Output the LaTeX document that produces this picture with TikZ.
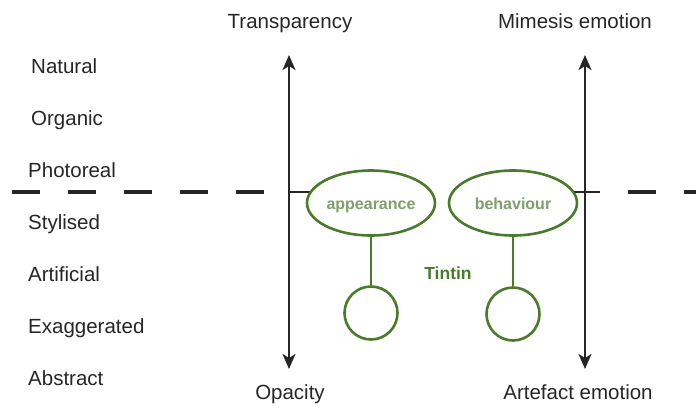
\documentclass[tikz,border=0pt]{standalone}
\usepackage{fontspec}
\setmainfont{Liberation Sans}
\usetikzlibrary{shapes.geometric,arrows.meta,backgrounds}
\definecolor{grn}{HTML}{4A7A2C}
\definecolor{grntxt}{HTML}{7F9E6C}
\definecolor{ink}{HTML}{262626}
\tikzset{
  lbl/.style={anchor=base west,inner sep=0pt,text=ink,font=\fontsize{20.5}{24}\selectfont},
  albl/.style={anchor=base,inner sep=0pt,text=ink,font=\fontsize{20.5}{24}\selectfont},
  oval/.style={ellipse,draw=grn,line width=2.6pt,fill=white,minimum width=128pt,minimum height=65pt,inner sep=0pt,text height=12pt,text depth=0pt,text=grntxt,font=\bfseries\fontsize{16}{19}\selectfont},
  ball/.style={circle,draw=grn,line width=2.6pt,fill=white,minimum size=53pt,inner sep=0pt},
  stem/.style={draw=grn,line width=2.6pt},
  axisline/.style={draw=ink,line width=2.5pt,{Stealth[length=15pt,width=13pt,inset=4pt]}-{Stealth[length=15pt,width=13pt,inset=4pt]}},
  dashline/.style={draw=ink,line width=3.2pt,dash pattern=on 28pt off 28pt},
  seg/.style={draw=ink,line width=2.6pt}
}
\begin{document}
\begin{tikzpicture}[x=1pt,y=-1pt]
\useasboundingbox (0,0) rectangle (696,407);
% axes
\coordinate (tL) at (289,55);
\coordinate (bL) at (289,369);
\coordinate (tR) at (585,55);
\coordinate (bR) at (585,369);
% horizontal line points
\coordinate (h0) at (12,192);
\coordinate (hL) at (289,192);
\coordinate (hR) at (600,192);
\coordinate (h1) at (628,192);
\coordinate (h2) at (696,192);
% ovals and balls
\node[oval] (app) at (371,203) {appearance};
\node[oval] (beh) at (513,203) {behaviour};
\node[ball] (c1) at (371,313) {};
\node[ball] (c2) at (513,314) {};
\draw[stem] (app.south) -- (c1.north);
\draw[stem] (beh.south) -- (c2.north);
\begin{scope}[on background layer]
\draw[seg] (hL) -- (hL -| app.center);
\draw[seg] (hR) -- (hR -| beh.center);
\end{scope}
\draw[dashline] (h0) -- (hL);
\draw[dashline] (h1) -- (h2);
\draw[axisline] (bL) -- (tL);
\draw[axisline] (bR) -- (tR);
\node[anchor=base,inner sep=0pt,text=grn,font=\bfseries\fontsize{17.5}{20}\selectfont] (tin) at (448,279) {Tintin};
% axis labels
\node[albl] (trans) at (290,28) {Transparency};
\node[albl] (mim) at (575,28) {Mimesis emotion};
\node[albl] (opa) at (290,399) {Opacity};
\node[albl] (art) at (578,399) {Artefact emotion};
% scale labels
\node[lbl] (n1) at (31,73) {Natural};
\node[lbl] (n2) at (31,125) {Organic};
\node[lbl] (n3) at (28,177) {Photoreal};
\node[lbl] (n4) at (28,229) {Stylised};
\node[lbl] (n5) at (28,281) {Artificial};
\node[lbl] (n6) at (28,333) {Exaggerated};
\node[lbl] (n7) at (28,385) {Abstract};
\end{tikzpicture}
\end{document}
